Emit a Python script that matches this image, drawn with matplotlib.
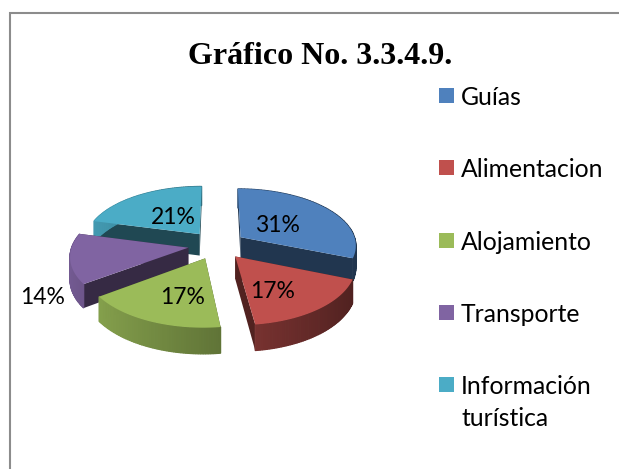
import numpy as np
import matplotlib
matplotlib.use('Agg')
import matplotlib.pyplot as plt
from matplotlib.patches import Polygon, Rectangle

# Data
categories = ['Guías', 'Alimentacion', 'Alojamiento', 'Transporte', 'Información\nturística']
values = [31, 17, 17, 14, 21]
labels = ['31%', '17%', '17%', '14%', '21%']
colors = ['#4f81bd', '#c0504d', '#9bbb59', '#8064a2', '#4bacc6']
title = 'Gráfico No. 3.3.4.9.'

# Pie geometry, in pixels
CX, CY = 217, 245
RX, RY = 116, 56.5
PERSP = 0.13
EXPLODE = 0.25
DEPTH = 22

label_pos = [(277, 225), (273, 292), (183, 298), (43, 297), (173, 218)]
legend_y = [96, 168, 241, 313, 385]


# Project a point of the unit pie plane to the picture
def project(u, v, drop=0):
    s = 1 / (1 + PERSP * v)
    return CX + RX * u * s, CY - RY * v * s + drop * s


def shade(color, factor):
    rgb = np.array(matplotlib.colors.to_rgb(color))
    return tuple(rgb * factor)


def draw_slice(ax, start, end, color):
    mid = (start + end) / 2
    ou, ov = EXPLODE * np.sin(mid), EXPLODE * np.cos(mid)
    thetas = np.linspace(start, end, 60)
    rim_u = ou + np.sin(thetas)
    rim_v = ov + np.cos(thetas)

    # two flat cut faces
    for i in [0, -1]:
        face = [project(ou, ov), project(rim_u[i], rim_v[i]),
                project(rim_u[i], rim_v[i], DEPTH), project(ou, ov, DEPTH)]
        ax.add_patch(Polygon(face, closed=True, fc=shade(color, 0.42), ec='none', zorder=2))

    # outer wall, lighter to the left
    for i in range(len(thetas) - 1):
        f = 0.65 - 0.25 * np.sin((thetas[i] + thetas[i + 1]) / 2)
        strip = [project(rim_u[i], rim_v[i]), project(rim_u[i + 1], rim_v[i + 1]),
                 project(rim_u[i + 1], rim_v[i + 1], DEPTH), project(rim_u[i], rim_v[i], DEPTH)]
        ax.add_patch(Polygon(strip, closed=True, fc=shade(color, f), ec=shade(color, f), lw=0.9, zorder=2))

    top = [project(ou, ov)] + [project(a, b) for a, b in zip(rim_u, rim_v)]
    ax.add_patch(Polygon(top, closed=True, fc=color, ec='none', zorder=2))


fig = plt.figure(figsize=(6.19, 4.69), dpi=100)
ax = fig.add_axes([0, 0, 1, 1])
ax.set_xlim(0, 619)
ax.set_ylim(469, 0)
ax.axis('off')

# Frame
ax.plot([10, 10, 619], [469, 13, 13], color='#8c8c8c', lw=1.5, solid_joinstyle='miter')

# Slices clockwise from the top, back ones first
edges = np.cumsum([0] + values) / sum(values) * 2 * np.pi
slices = [(edges[i], edges[i + 1], colors[i]) for i in range(len(values))]
slices.sort(key=lambda s: -np.cos((s[0] + s[1]) / 2))
for start, end, color in slices:
    draw_slice(ax, start, end, color)

for (x, y), text in zip(label_pos, labels):
    ax.text(x, y, text, family='Lato', fontsize=16.5, color='black', ha='center', va='center', zorder=3)

ax.text(320, 56, title, family='Liberation Serif', weight='bold', fontsize=23, color='black', ha='center', va='center')

# Legend
for y, name, color in zip(legend_y, categories, colors):
    ax.add_patch(Rectangle((439, y - 7.5), 15, 15, fc=color, ec='none'))
    ax.text(461, y - 10, name, family='Lato', fontsize=17.8, color='black', ha='left', va='top', linespacing=1.5)

fig.savefig('out.png', dpi=100)
